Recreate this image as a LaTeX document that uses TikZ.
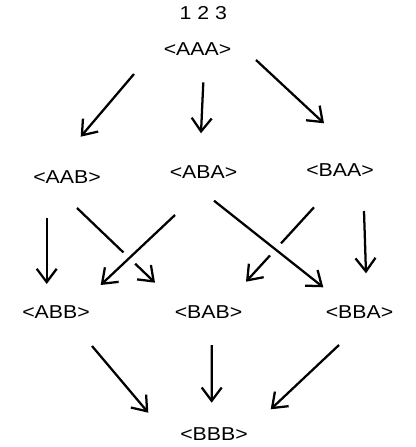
\documentclass[tikz,border=0pt]{standalone}
\usepackage{fontspec}
\setmainfont[FakeStretch=1.14]{Liberation Sans}
\usepackage{tikz}
\usetikzlibrary{arrows.meta}

\begin{document}
\begin{tikzpicture}[x=0.75pt,y=-0.75pt,
    state/.style={font=\fontsize{14}{16}\selectfont,inner sep=1pt},
    arr/.style={-{Straight Barb[length=10pt,width=15pt]},line width=1.7pt},
    over/.style={preaction={draw=white,line width=12pt,-}}]
  \useasboundingbox (0,0) rectangle (415,447);
  \node[state] (pos) at (203.3,13.3) {1 2 3};
  \foreach \name/\txt/\x/\y in {aaa/AAA/197.5/48.7,
      aab/AAB/67/177.5, aba/ABA/203.5/172.5, baa/BAA/340/170,
      abb/ABB/56/312.5, bab/BAB/208.5/312.5, bba/BBA/359.5/312.5,
      bbb/BBB/214/434.5} {
    \node[state] (\name) at (\x,\y) {<\txt>};
  }
  % first flip
  \draw[arr] ([shift={(-63.5,25.3)}]aaa.center) -- ([shift={(13.7,-40.8)}]aab.center);
  \draw[arr] ([shift={(5.8,33.6)}]aaa.center) -- ([shift={(-2.5,-39.2)}]aba.center);
  \draw[arr] ([shift={(58.5,11.3)}]aaa.center) -- ([shift={(-16,-46.7)}]baa.center);
  % second flip, the crossed ones last
  \draw[arr] ([shift={(-20.3,40.8)}]aab.center) -- ([shift={(-9.3,-28.5)}]abb.center);
  \draw[arr] ([shift={(10,30.5)}]aab.center) -- ([shift={(-53.5,-29.8)}]bab.center);
  \draw[arr] ([shift={(-26,37.3)}]baa.center) -- ([shift={(37.5,-30.8)}]bab.center);
  \draw[arr] ([shift={(24,41)}]baa.center) -- ([shift={(6.5,-39.2)}]bba.center);
  \draw[arr,over] ([shift={(-28.5,42.5)}]aba.center) -- ([shift={(44.7,-27.5)}]abb.center);
  \draw[arr,over] ([shift={(10.5,28.2)}]aba.center) -- ([shift={(-36.2,-25.2)}]bba.center);
  % third flip
  \draw[arr] ([shift={(36,33.5)}]abb.center) -- ([shift={(-65.7,-21.8)}]bbb.center);
  \draw[arr] ([shift={(3.2,32.5)}]bab.center) -- ([shift={(-2.3,-31.8)}]bbb.center);
  \draw[arr] ([shift={(-20.5,32.5)}]bba.center) -- ([shift={(56.7,-25.2)}]bbb.center);
\end{tikzpicture}
\end{document}
